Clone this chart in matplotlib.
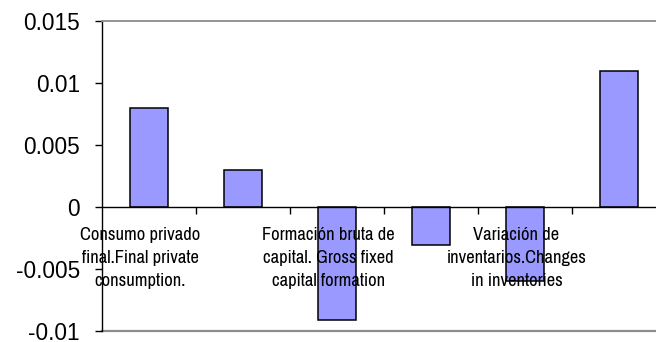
import matplotlib
matplotlib.use("Agg")
import matplotlib.pyplot as plt
from matplotlib import font_manager

# ---- data ----
categories = [
    "Consumo privado\nfinal.Final private\nconsumption.",
    "",
    "Formación bruta de\ncapital. Gross fixed\ncapital formation",
    "",
    "Variación de\ninventarios.Changes\nin inventories",
    "",
]
values = [0.0080, 0.0030, -0.0091, -0.0031, -0.0060, 0.0110]
ytick_values = [0.015, 0.01, 0.005, 0, -0.005, -0.01]
ytick_labels = ["0.015", "0.01", "0.005", "0", "-0.005", "-0.01"]

names = {f.name for f in font_manager.fontManager.ttflist}
narrow = None
for cand in ["Liberation Sans Narrow", "Nimbus Sans Narrow", "Arial Narrow",
             "Archivo Narrow", "Roboto Condensed"]:
    if cand in names:
        narrow = cand
        break
label_kw = dict(family=narrow, fontsize=13.3) if narrow else dict(family="DejaVu Sans", fontstretch="condensed", fontsize=12)

fig = plt.figure(figsize=(6.56, 3.42), dpi=100)
ax = fig.add_axes([102 / 656, 1 - 331 / 342, 564 / 656, 310 / 342])

x = list(range(len(values)))
ax.bar(x, values, width=0.41, color="#9999FF", edgecolor="black", linewidth=1.1, zorder=2)

ax.set_xlim(-0.5, len(values) - 0.5)
ax.set_ylim(-0.01, 0.015)

# spines
ax.spines["left"].set_color("black")
ax.spines["left"].set_linewidth(1.0)
ax.spines["bottom"].set_position(("data", 0))
ax.spines["bottom"].set_color("black")
ax.spines["bottom"].set_linewidth(1.0)
ax.spines["bottom"].set_zorder(3)
ax.spines["top"].set_color("#8c8c8c")
ax.spines["top"].set_linewidth(1.3)
ax.spines["right"].set_color("#8c8c8c")
ax.axhline(-0.01, color="#8c8c8c", linewidth=1.6, clip_on=False, zorder=1)

# ticks
ax.set_yticks(ytick_values)
ax.set_yticklabels(ytick_labels, family="Liberation Sans", fontsize=16.3)
ax.tick_params(axis="y", direction="out", length=5, width=1, pad=11)
ax.set_xticks([i + 0.5 for i in x[:-1]])
ax.set_xticklabels([])
ax.tick_params(axis="x", direction="out", length=5, width=1)

for i, lbl in enumerate(categories):
    if lbl:
        ax.annotate(lbl, xy=(i - 0.09, 0), xytext=(0, -14.5), textcoords="offset points",
                    ha="center", va="top", linespacing=1.55, zorder=4,
                    annotation_clip=False, **label_kw)

fig.savefig("out.png", dpi=100)
